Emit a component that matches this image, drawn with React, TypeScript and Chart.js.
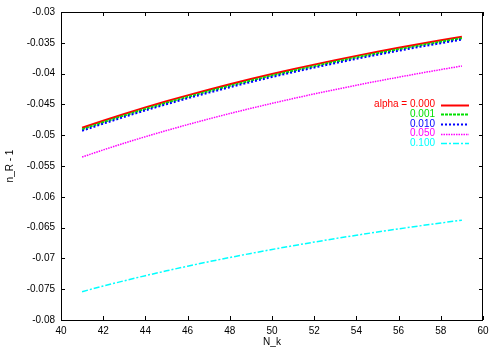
import React, { useEffect, useRef } from "react";
import { Chart, registerables } from "chart.js";

Chart.register(...registerables);

// ---- data ----
const nk = [41, 42, 43, 44, 45, 46, 47, 48, 49, 50, 51, 52, 53, 54, 55, 56, 57, 58, 59];
const alpha000 = [-0.0488, -0.04765, -0.04655, -0.04549, -0.04449, -0.04353, -0.04261, -0.04173, -0.04088, -0.04007, -0.03929, -0.03854, -0.03782, -0.03712, -0.03645, -0.03581, -0.03518, -0.03458, -0.034];
const alpha001 = [-0.04905, -0.0479, -0.0468, -0.04574, -0.04474, -0.04378, -0.04286, -0.04198, -0.04113, -0.04032, -0.03954, -0.03879, -0.03807, -0.03737, -0.0367, -0.03606, -0.03543, -0.03483, -0.03425];
const alpha010 = [-0.04928, -0.04813, -0.04703, -0.04597, -0.04497, -0.04401, -0.04309, -0.04221, -0.04136, -0.04055, -0.03977, -0.03902, -0.0383, -0.0376, -0.03693, -0.03629, -0.03566, -0.03506, -0.03448];
const alpha050 = [-0.05354, -0.05239, -0.05129, -0.05024, -0.04924, -0.04828, -0.04736, -0.04648, -0.04564, -0.04483, -0.04405, -0.0433, -0.04258, -0.04189, -0.04122, -0.04058, -0.03995, -0.03935, -0.03877];
const alpha100 = [-0.0754, -0.07449, -0.07363, -0.0728, -0.07202, -0.07126, -0.07054, -0.06985, -0.06919, -0.06855, -0.06794, -0.06735, -0.06678, -0.06624, -0.06571, -0.06521, -0.06472, -0.06425, -0.06379];

const seriesLabels = ["alpha = 0.000", "0.001", "0.010", "0.050", "0.100"];
const xTickLabels = ["40", "42", "44", "46", "48", "50", "52", "54", "56", "58", "60"];
const yTickLabels = ["-0.08", "-0.075", "-0.07", "-0.065", "-0.06", "-0.055", "-0.05", "-0.045", "-0.04", "-0.035", "-0.03"];
const xTitle = "N_k";
const yTitle = "n_R - 1";

// ---- styles ----
const seriesValues = [alpha000, alpha001, alpha010, alpha050, alpha100];
const colors = ["#ff0000", "#00e000", "#0000ff", "#ff00ff", "#00ffff"];
const dashes: number[][] = [[], [3, 1], [2, 2], [1.5, 1], [6, 2, 2, 2]];
const widths = [2, 2, 2, 1.5, 1.5];
const FONT = "'Liberation Sans', Arial, Helvetica, sans-serif";

const gnuplotPlugin = {
  id: "gnuplotFrame",
  afterDraw(chart: any) {
    const { ctx, chartArea: a, scales } = chart;
    ctx.save();
    ctx.strokeStyle = "#000";
    ctx.lineWidth = 1;
    ctx.setLineDash([]);
    ctx.strokeRect(a.left + 0.5, a.top + 0.5, a.right - a.left - 1, a.bottom - a.top);
    const tl = 4;
    ctx.beginPath();
    for (const t of scales.y.ticks) {
      const p = Math.round(scales.y.getPixelForValue(t.value)) + 0.5;
      ctx.moveTo(a.left, p);
      ctx.lineTo(a.left + tl, p);
      ctx.moveTo(a.right, p);
      ctx.lineTo(a.right - tl, p);
    }
    for (const t of scales.x.ticks) {
      const p = Math.round(scales.x.getPixelForValue(t.value)) + 0.5;
      ctx.moveTo(p, a.bottom);
      ctx.lineTo(p, a.bottom - tl);
      ctx.moveTo(p, a.top);
      ctx.lineTo(p, a.top + tl);
    }
    ctx.stroke();

    // legend
    ctx.font = `10px ${FONT}`;
    ctx.textAlign = "right";
    ctx.textBaseline = "middle";
    seriesLabels.forEach((lab, i) => {
      const y = 104.5 + i * 9.7;
      ctx.fillStyle = colors[i];
      ctx.fillText(lab, 435, y);
      ctx.strokeStyle = colors[i];
      ctx.lineWidth = widths[i];
      ctx.setLineDash(dashes[i]);
      ctx.beginPath();
      ctx.moveTo(441, Math.round(y) + 0.5);
      ctx.lineTo(469, Math.round(y) + 0.5);
      ctx.stroke();
    });
    ctx.restore();
  },
};

export default function App() {
  const ref = useRef<HTMLCanvasElement | null>(null);
  useEffect(() => {
    document.body.style.margin = "0";
    const canvas = ref.current;
    if (!canvas) return;
    const chart = new Chart(canvas, {
      type: "line",
      data: {
        datasets: seriesValues.map((vals, i) => ({
          label: seriesLabels[i],
          data: nk.map((n, j) => ({ x: n, y: vals[j] })),
          borderColor: colors[i],
          backgroundColor: colors[i],
          borderWidth: widths[i],
          borderDash: dashes[i],
          pointRadius: 0,
          tension: 0,
          fill: false,
          order: 5 - i,
        })),
      },
      options: {
        responsive: false,
        animation: false,
        layout: { padding: { top: 12, right: 17, left: 0, bottom: 0 } },
        plugins: { legend: { display: false }, tooltip: { enabled: false } },
        scales: {
          x: {
            type: "linear",
            min: 40,
            max: 60,
            grid: { display: false, drawTicks: false },
            border: { display: false },
            ticks: {
              stepSize: 2,
              padding: 5,
              color: "#000",
              font: { family: FONT, size: 10 },
              maxRotation: 0,
              callback: (_v: any, i: number) => xTickLabels[i],
            },
            title: {
              display: true,
              text: xTitle,
              color: "#000",
              font: { family: FONT, size: 10 },
              padding: { top: 0, bottom: 2 },
            },
            afterFit: (s: any) => {
              s.height = 30;
            },
          },
          y: {
            type: "linear",
            min: -0.08,
            max: -0.03,
            grid: { display: false, drawTicks: false },
            border: { display: false },
            ticks: {
              stepSize: 0.005,
              padding: 6,
              color: "#000",
              font: { family: FONT, size: 10 },
              callback: (_v: any, i: number) => yTickLabels[i],
            },
            title: {
              display: true,
              text: yTitle,
              color: "#000",
              font: { family: FONT, size: 10 },
              padding: { top: 4, bottom: 0 },
            },
            afterFit: (s: any) => {
              s.width = 61;
            },
          },
        },
      },
      plugins: [gnuplotPlugin],
    });
    return () => chart.destroy();
  }, []);
  return (
    <div style={{ width: 500, height: 350 }}>
      <canvas ref={ref} width={500} height={350} style={{ display: "block" }} />
    </div>
  );
}
